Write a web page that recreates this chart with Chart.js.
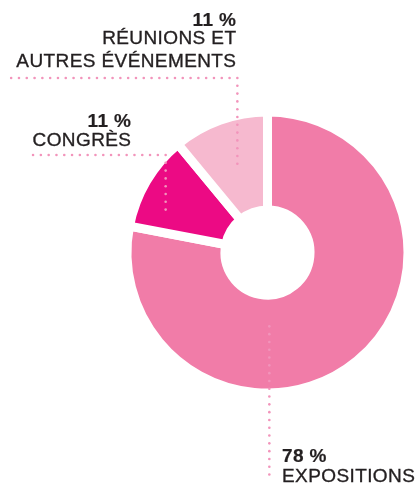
<!DOCTYPE html>
<html>
<head>
<meta charset="utf-8">
<style>
  html, body { margin: 0; padding: 0; background: #fff; }
  #wrap { position: relative; width: 419px; height: 484px; overflow: hidden; }
  #chart { position: absolute; left: 0; top: 0; }
  .lbl {
    position: absolute;
    font-family: "Liberation Sans", Arial, sans-serif;
    font-size: 19px;
    line-height: 19px;
    color: #231f20;
    -webkit-text-stroke: 0.35px #231f20;
    letter-spacing: 0.4px;
    white-space: nowrap;
  }
  .lbl.pct { font-weight: bold; -webkit-text-stroke: 0.2px #231f20; }
</style>
<script src="https://cdn.jsdelivr.net/npm/chart.js@4"></script>
</head>
<body>
<div id="wrap"><canvas id="chart" width="419" height="484"></canvas></div>
<script>
// shares of activity, in percent
const categories = [["EXPOSITIONS"], ["CONGRÈS"], ["RÉUNIONS ET", "AUTRES ÉVÉNEMENTS"]];
const shares = [78, 11, 11];
const colors = ["#f17ca8", "#ec0a84", "#f6b9cf"];

// where each text block sits (baselines in px) and how its dotted leader runs
const placement = [
  { align: "left",  x: 282, baselines: [462, 482] },
  { align: "right", x: 131, baselines: [127, 146] },
  { align: "right", x: 236, baselines: [26, 44, 67] }
];
const leaders = [
  { frac: 0.636, ring: 0.32, endY: 482 },
  { frac: 0.273, ring: 0.684, elbowY: 155, endX: 33 },
  { frac: 0.525, ring: 0.52, elbowY: 78, endX: 8 }
];

const W = 419;
const SPACING = 0.4;
const wrap = document.getElementById("wrap");

categories.forEach((lines, i) => {
  const p = placement[i];
  const texts = [`${shares[i]}\u00a0%`, ...lines];
  texts.forEach((t, j) => {
    const d = document.createElement("div");
    d.className = "lbl" + (j === 0 ? " pct" : "");
    d.textContent = t;
    // baseline of Liberation Sans at 19px/19px sits ~16.1px below the box top
    d.style.top = (p.baselines[j] - 16.1) + "px";
    if (p.align === "left") d.style.left = p.x + "px";
    else d.style.right = (W - p.x - SPACING) + "px";
    wrap.appendChild(d);
  });
});

// dotted leader lines, anchored on each arc
const DOT_GAP = 7.8;
function dotsAlong(ctx, x0, y0, x1, y1, skipFirst) {
  const len = Math.hypot(x1 - x0, y1 - y0);
  const n = Math.floor(len / DOT_GAP);
  for (let k = skipFirst ? 1 : 0; k <= n; k++) {
    const t = (k * DOT_GAP) / len;
    ctx.beginPath();
    ctx.arc(x0 + (x1 - x0) * t, y0 + (y1 - y0) * t, 1.3, 0, Math.PI * 2);
    ctx.fill();
  }
}

const leaderPlugin = {
  id: "leaders",
  afterDatasetsDraw(chart) {
    const ctx = chart.ctx;
    const arcs = chart.getDatasetMeta(0).data;
    ctx.save();
    ctx.fillStyle = "#f294bb";
    arcs.forEach((arc, i) => {
      const l = leaders[i];
      const { x, y, startAngle, endAngle, innerRadius, outerRadius } =
        arc.getProps(["x", "y", "startAngle", "endAngle", "innerRadius", "outerRadius"], true);
      const a = startAngle + l.frac * (endAngle - startAngle);
      const r = innerRadius + l.ring * (outerRadius - innerRadius);
      const ax = x + r * Math.cos(a);
      const ay = y + r * Math.sin(a);
      if (l.endY !== undefined) {
        dotsAlong(ctx, ax, ay, ax, l.endY, false);
      } else {
        dotsAlong(ctx, ax, l.elbowY, ax, ay, false);
        dotsAlong(ctx, ax, l.elbowY, l.endX, l.elbowY, true);
      }
    });
    ctx.restore();
  }
};

new Chart(document.getElementById("chart"), {
  type: "doughnut",
  data: {
    labels: categories.map(c => c.join(" ")),
    datasets: [{
      data: shares,
      backgroundColor: colors,
      borderColor: "#ffffff",
      borderWidth: 9,
      hoverOffset: 0
    }]
  },
  options: {
    responsive: false,
    animation: false,
    events: [],
    radius: 140.5,
    cutout: 44.5,
    layout: { padding: { left: 116, right: 0, top: 21, bottom: 0 } },
    plugins: {
      legend: { display: false },
      tooltip: { enabled: false }
    }
  },
  plugins: [leaderPlugin]
});
</script>
</body>
</html>
